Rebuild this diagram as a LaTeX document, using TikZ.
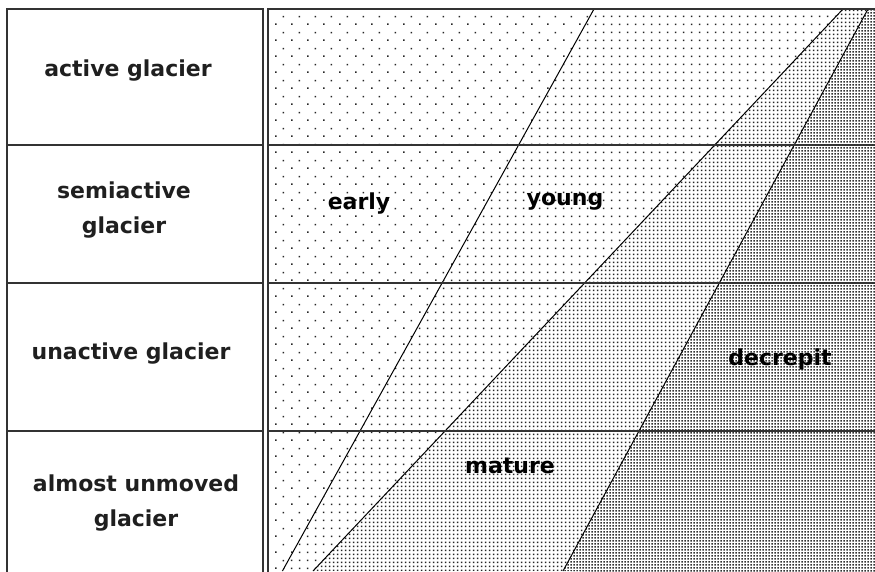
\documentclass[tikz,border=0pt]{standalone}
\usepackage{fontspec}
\setmainfont{DejaVu Sans}
\usetikzlibrary{patterns}

% Dot screens, from sparse to dense
\pgfdeclarepatternformonly{earlydots}{\pgfqpoint{0pt}{0pt}}{\pgfqpoint{16pt}{16pt}}{\pgfqpoint{16pt}{16pt}}{%
  \pgfpathrectangle{\pgfqpoint{3.3pt}{3.3pt}}{\pgfqpoint{1.5pt}{1.5pt}}%
  \pgfpathrectangle{\pgfqpoint{11.3pt}{11.3pt}}{\pgfqpoint{1.5pt}{1.5pt}}%
  \pgfusepath{fill}}
\pgfdeclarepatternformonly{youngdots}{\pgfqpoint{0pt}{0pt}}{\pgfqpoint{8pt}{8pt}}{\pgfqpoint{8pt}{8pt}}{%
  \pgfpathrectangle{\pgfqpoint{3.3pt}{3.3pt}}{\pgfqpoint{1.5pt}{1.5pt}}%
  \pgfusepath{fill}}
\pgfdeclarepatternformonly{maturedots}{\pgfqpoint{0pt}{0pt}}{\pgfqpoint{4pt}{4pt}}{\pgfqpoint{4pt}{4pt}}{%
  \pgfpathrectangle{\pgfqpoint{1.1pt}{1.1pt}}{\pgfqpoint{1.8pt}{1.8pt}}%
  \pgfusepath{fill}}
\pgfdeclarepatternformonly{decrepitdots}{\pgfqpoint{0pt}{0pt}}{\pgfqpoint{3pt}{3pt}}{\pgfqpoint{3pt}{3pt}}{%
  \pgfpathrectangle{\pgfqpoint{0.6pt}{0.6pt}}{\pgfqpoint{1.8pt}{1.8pt}}%
  \pgfusepath{fill}}

\tikzset{
  frame/.style={draw=black!80, line width=1.4pt},
  border/.style={draw=black, line width=1pt},
  rowlabel/.style={font=\bfseries\fontsize{22}{35}\selectfont, text=black!88, align=center, inner sep=0pt},
  stagelabel/.style={font=\bfseries\fontsize{22}{26}\selectfont, text=black, inner sep=0pt, anchor=base},
}

\begin{document}
\begin{tikzpicture}[x=1pt,y=-1pt]
\useasboundingbox (0,0) rectangle (875,571);
\clip (0,0) rectangle (875,571);

% end points of the three stage boundaries
\coordinate (b1t) at (594,9);  \coordinate (b1b) at (282.4,571);
\coordinate (b2t) at (843,9);  \coordinate (b2b) at (313,571);
\coordinate (b3t) at (868,9);  \coordinate (b3b) at (563,571);

% stage areas
\fill[pattern=earlydots, pattern color=black!85] (268,9) -- (b1t) -- (b1b) -- (268,571) -- cycle;
\fill[pattern=youngdots, pattern color=black!85] (b1t) -- (b2t) -- (b2b) -- (b1b) -- cycle;
\fill[pattern=maturedots, pattern color=black!85] (b2t) -- (b3t) -- (b3b) -- (b2b) -- cycle;
\fill[pattern=decrepitdots, pattern color=black!80] (b3t) -- (880,9) -- (880,580) -- (b3b) -- cycle;

% stage boundaries
\draw[border] (b1t) -- (b1b);
\draw[border] (b2t) -- (b2b);
\draw[border] (b3t) -- (b3b);

% left column of glacier states
\draw[frame] (7,590) -- (7,9) -- (263,9) -- (263,590);
\foreach \yy in {145,283,431} \draw[frame] (7,\yy) -- (263,\yy);

% chart frame and row lines
\draw[frame] (268,590) -- (268,9) -- (890,9);
\foreach \yy in {145,283,431} \draw[frame] (268,\yy) -- (890,\yy);

% row labels
\node[rowlabel] (active) at (128,71) {active glacier};
\node[rowlabel] (semi) at (124,210) {semiactive\\glacier};
\node[rowlabel] (unactive) at (131,354) {unactive glacier};
\node[rowlabel] (unmoved) at (136,503) {almost unmoved\\glacier};

% stage labels
\node[stagelabel] (early) at (359,209) {early};
\node[stagelabel] (young) at (565,205) {young};
\node[stagelabel] (mature) at (510,473) {mature};
\node[stagelabel] (decrepit) at (780,365) {decrepit};
\end{tikzpicture}
\end{document}
